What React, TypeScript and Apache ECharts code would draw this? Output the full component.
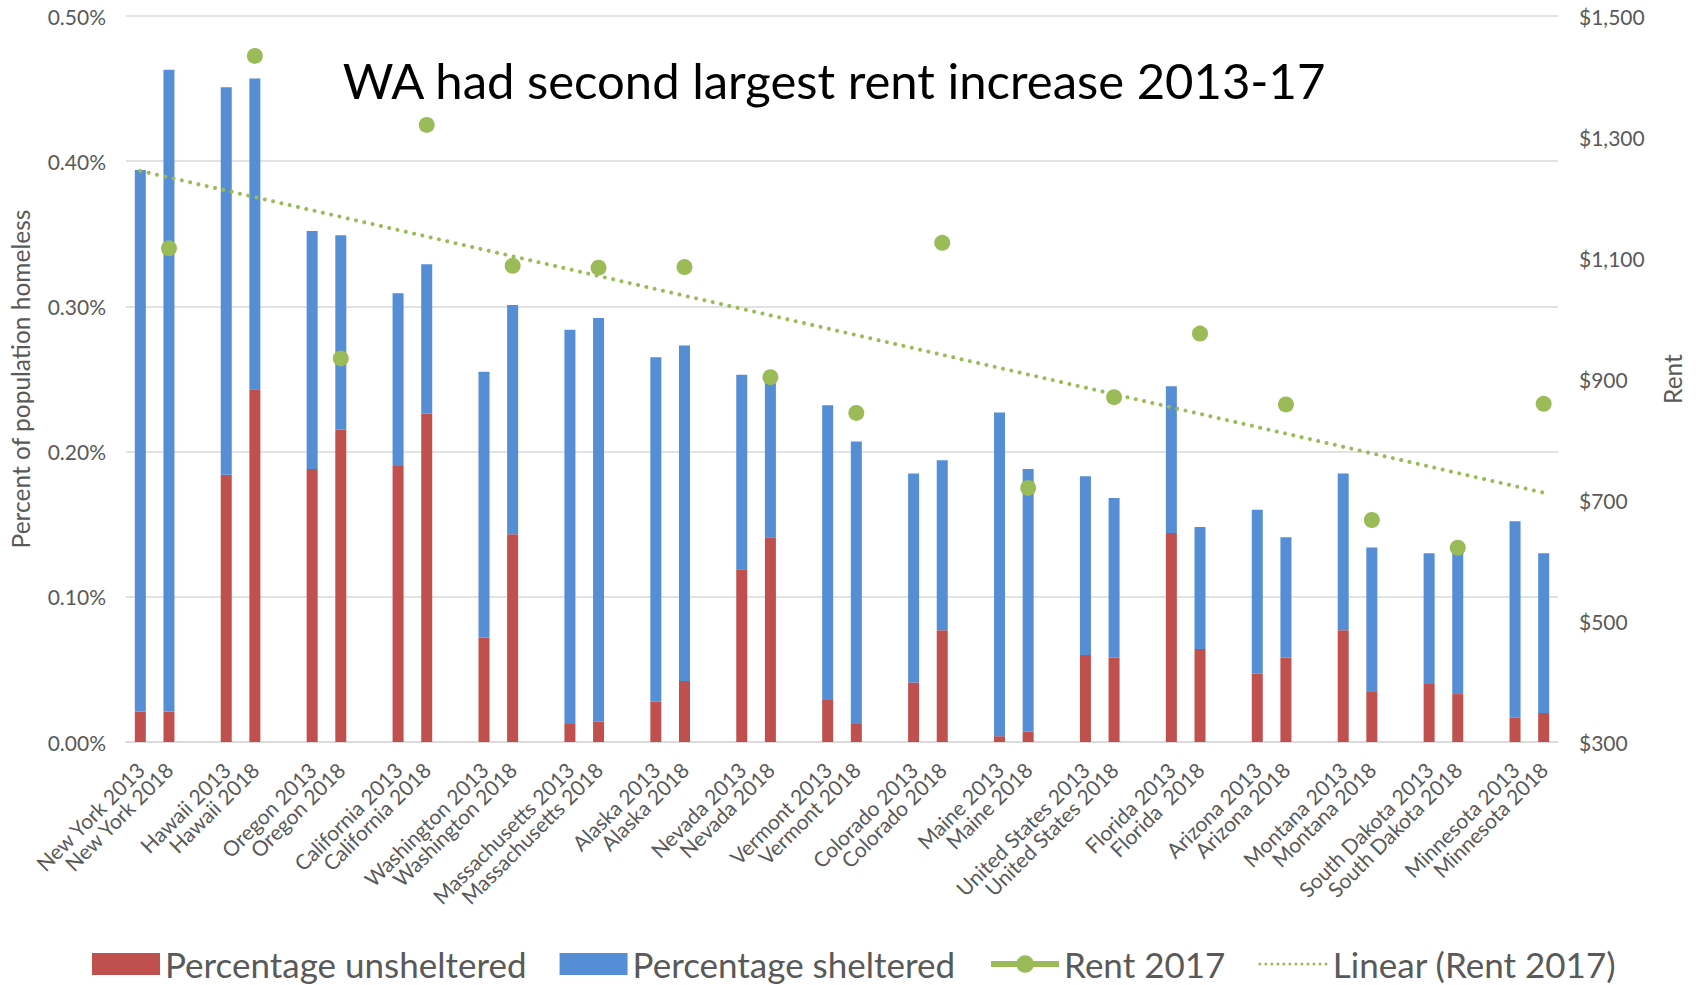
import React, { useEffect, useRef } from "react";
import * as echarts from "echarts";

const states = [
  "New York", "Hawaii", "Oregon", "California", "Washington", "Massachusetts",
  "Alaska", "Nevada", "Vermont", "Colorado", "Maine", "United States",
  "Florida", "Arizona", "Montana", "South Dakota", "Minnesota",
];
const label2018 = [
  "New York 2018", "Hawaii 2018", "Oregon 2018", "California 2018", "Washington 2018",
  "Massachusetts 2018", "Alaska 2018", "Nevada 2018", "Vermont 2018", "Colorado 2018",
  "Maine 2018", "United States 2018", "Florida  2018", "Arizona 2018", "Montana 2018",
  "South Dakota 2018", "Minnesota 2018",
];

// percent of population (values in %)
const unsheltered2013 = [0.021, 0.184, 0.188, 0.190, 0.072, 0.013, 0.028, 0.119, 0.029, 0.041, 0.004, 0.060, 0.144, 0.047, 0.077, 0.040, 0.017];
const sheltered2013 = [0.373, 0.267, 0.164, 0.119, 0.183, 0.271, 0.237, 0.134, 0.203, 0.144, 0.223, 0.123, 0.101, 0.113, 0.108, 0.090, 0.135];
const unsheltered2018 = [0.021, 0.243, 0.215, 0.226, 0.143, 0.014, 0.042, 0.141, 0.013, 0.077, 0.007, 0.058, 0.064, 0.058, 0.035, 0.033, 0.020];
const sheltered2018 = [0.442, 0.214, 0.134, 0.103, 0.158, 0.278, 0.231, 0.109, 0.194, 0.117, 0.181, 0.110, 0.084, 0.083, 0.099, 0.098, 0.110];

const rent2017 = [1116, 1434, 934, 1320, 1087, 1084, 1085, 903, 844, 1125, 720, 870, 975, 858, 667, 621, 859];
// linear trendline of Rent 2017, value at first and last category
const trendEnds = [1244, 712];

const leftTicks = { min: 0, max: 0.5, interval: 0.1 };
const rightTicks = { min: 300, max: 1500, interval: 200 };

const TITLE = "WA had second largest rent increase 2013-17";
const FONT = "Lato, 'Open Sans', sans-serif";
const GREY = "#595959";
const GREEN = "#9BBB59";

function buildCategories() {
  const cats: string[] = [];
  const uns: (number | null)[] = [];
  const she: (number | null)[] = [];
  const rent: (number | null)[] = [];
  states.forEach((s, i) => {
    if (i > 0) {
      cats.push(" ".repeat(i));
      uns.push(null); she.push(null); rent.push(null);
    }
    cats.push(`${s} 2013`);
    uns.push(unsheltered2013[i]); she.push(sheltered2013[i]); rent.push(null);
    cats.push(label2018[i]);
    uns.push(unsheltered2018[i]); she.push(sheltered2018[i]); rent.push(rent2017[i]);
  });
  const trend: (number | null)[] = cats.map(() => null);
  trend[0] = trendEnds[0];
  trend[cats.length - 1] = trendEnds[1];
  return { cats, uns, she, rent, trend };
}

export default function App() {
  const ref = useRef<HTMLDivElement>(null);
  useEffect(() => {
    document.body.style.margin = "0";
    if (!ref.current) return;
    const chart = echarts.init(ref.current, null, { renderer: "svg" });
    const { cats, uns, she, rent, trend } = buildCategories();
    chart.setOption({
      animation: false,
      textStyle: { fontFamily: FONT },
      grid: { left: 126, right: 138, top: 16, bottom: 243, containLabel: false },
      graphic: [
        {
          type: "text",
          x: 834,
          y: 80,
          style: {
            text: TITLE,
            font: `49px ${FONT}`,
            fill: "#000000",
            textAlign: "center",
            textVerticalAlign: "middle",
          },
        },
      ],
      legend: {
        left: 92,
        top: 946,
        padding: 0,
        itemWidth: 68,
        itemHeight: 22,
        itemGap: 33,
        textStyle: { fontSize: 35, lineHeight: 36, color: GREY, fontFamily: FONT },
        data: [
          { name: "Percentage unsheltered", icon: "rect" },
          { name: "Percentage sheltered", icon: "rect" },
          { name: "Rent 2017", lineStyle: { width: 6, color: GREEN }, itemStyle: { color: GREEN } },
          {
            name: "Linear (Rent 2017)",
            lineStyle: { width: 3, color: GREEN, type: [0.01, 6], cap: "round" },
            itemStyle: { opacity: 0 },
          },
        ],
      },
      xAxis: {
        type: "category",
        data: cats,
        axisTick: { show: false },
        axisLine: { lineStyle: { color: "#D9D9D9", width: 1.5 } },
        axisLabel: {
          interval: 0,
          rotate: 45,
          fontSize: 21,
          color: GREY,
          margin: 24,
          fontFamily: FONT,
        },
      },
      yAxis: [
        {
          type: "value",
          min: leftTicks.min,
          max: leftTicks.max,
          interval: leftTicks.interval,
          name: "Percent of population homeless",
          nameLocation: "middle",
          nameRotate: 90,
          nameGap: 93,
          nameTextStyle: { fontSize: 24.5, color: GREY, fontFamily: FONT },
          axisLine: { show: false },
          axisTick: { show: false },
          axisLabel: {
            fontSize: 21,
            color: GREY,
            margin: 20,
            formatter: (v: number) => v.toFixed(2) + "%",
          },
          splitLine: { lineStyle: { color: "#D9D9D9", width: 1.5 } },
        },
        {
          type: "value",
          position: "right",
          min: rightTicks.min,
          max: rightTicks.max,
          interval: rightTicks.interval,
          name: "Rent",
          nameLocation: "middle",
          nameRotate: 90,
          nameGap: 102,
          nameTextStyle: { fontSize: 24.5, color: GREY, fontFamily: FONT },
          axisLine: { show: false },
          axisTick: { show: false },
          splitLine: { show: false },
          axisLabel: {
            fontSize: 21,
            color: GREY,
            margin: 21,
            formatter: (v: number) => "$" + v.toLocaleString("en-US"),
          },
        },
      ],
      series: [
        {
          name: "Percentage unsheltered",
          type: "bar",
          stack: "homeless",
          barWidth: 11,
          data: uns,
          itemStyle: { color: "#C0504D" },
        },
        {
          name: "Percentage sheltered",
          type: "bar",
          stack: "homeless",
          barWidth: 11,
          data: she,
          itemStyle: { color: "#558ED5" },
        },
        {
          name: "Linear (Rent 2017)",
          type: "line",
          yAxisIndex: 1,
          data: trend,
          connectNulls: true,
          symbol: "none",
          lineStyle: { color: GREEN, width: 4, type: [0.01, 8.5], cap: "round" },
          itemStyle: { color: GREEN },
          z: 3,
        },
        {
          name: "Rent 2017",
          type: "line",
          yAxisIndex: 1,
          data: rent,
          connectNulls: false,
          symbol: "circle",
          symbolSize: 16,
          showSymbol: true,
          lineStyle: { color: GREEN, width: 6 },
          itemStyle: { color: GREEN },
          z: 4,
        },
      ],
    });
    return () => chart.dispose();
  }, []);
  return <div ref={ref} style={{ width: 1696, height: 985 }} />;
}
